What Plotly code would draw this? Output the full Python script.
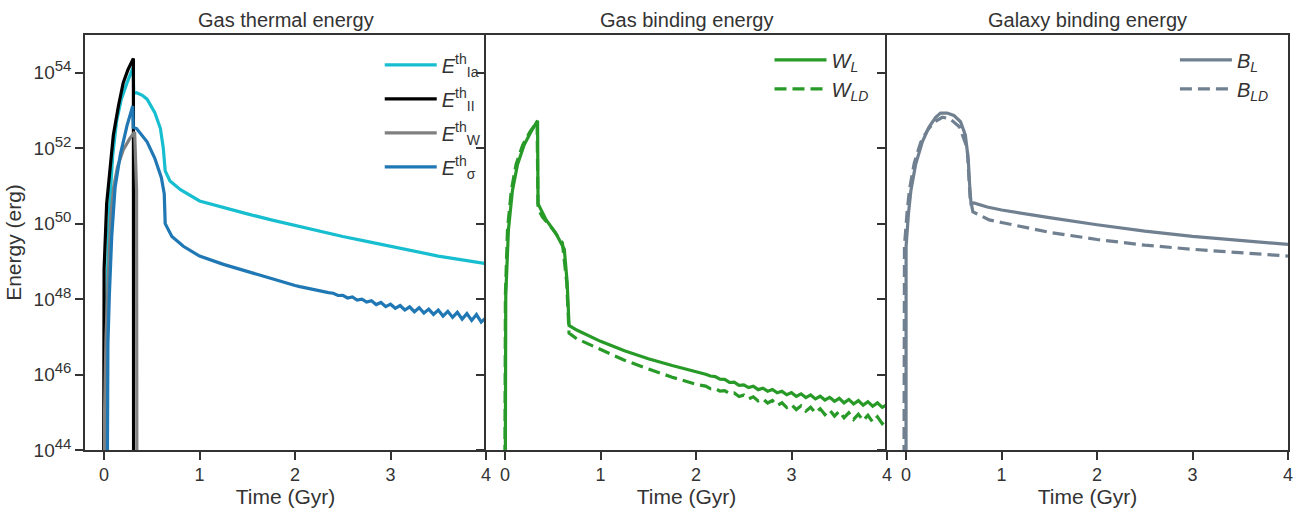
import plotly.graph_objects as go
from plotly.subplots import make_subplots

# ---------------- data: time (Gyr) and log10(energy / erg) ----------------
# shared late-time grid (Gyr)
t_late = [2.00, 2.05, 2.10, 2.15, 2.20, 2.25, 2.30, 2.35, 2.40, 2.45, 2.50,
          2.55, 2.60, 2.65, 2.70, 2.75, 2.80, 2.85, 2.90, 2.95, 3.00,
          3.05, 3.10, 3.15, 3.20, 3.25, 3.30, 3.35, 3.40, 3.45, 3.50,
          3.55, 3.60, 3.65, 3.70, 3.75, 3.80, 3.85, 3.90, 3.95, 4.00]

# Gas thermal energy
t_Ia = [0.015, 0.02, 0.03, 0.045, 0.063, 0.09, 0.13, 0.18, 0.24, 0.29, 0.305,
        0.31, 0.34, 0.40, 0.45, 0.53, 0.59, 0.62, 0.64, 0.69, 0.80, 1.00, 1.25,
        1.50, 1.75, 2.00, 2.25, 2.50, 2.75, 3.00, 3.25, 3.50, 3.75, 4.00]
logE_Ia = [40.0, 46.0, 48.0, 49.7, 50.7, 51.8, 52.7, 53.3, 53.73, 54.1, 54.15,
           53.45, 53.47, 53.4, 53.3, 52.95, 52.52, 52.0, 51.4, 51.13, 50.9, 50.6, 50.42,
           50.26, 50.1, 49.95, 49.8, 49.66, 49.53, 49.4, 49.27, 49.14, 49.04, 48.94]

t_II = [-0.008, -0.006, -0.003, 0.0, 0.027, 0.063, 0.097, 0.15, 0.20, 0.25, 0.307, 0.309]
logE_II = [40.0, 46.0, 47.8, 48.8, 50.53, 51.57, 52.35, 53.12, 53.73, 54.08, 54.38, 40.0]

t_W = [0.0, 0.005, 0.02, 0.045, 0.07, 0.10, 0.14, 0.20, 0.27, 0.32, 0.34, 0.345]
logE_W = [40.0, 45.0, 47.0, 48.8, 50.2, 50.96, 51.5, 51.95, 52.26, 52.43, 50.9, 40.0]

t_sig_early = [0.028, 0.032, 0.04, 0.055, 0.08, 0.115, 0.17, 0.24, 0.30, 0.305,
               0.34, 0.45, 0.53, 0.60, 0.63, 0.64, 0.71, 0.83, 1.00, 1.25, 1.50, 1.75]
logE_sig_early = [40.0, 45.0, 46.8, 48.1, 49.66, 50.96, 51.83, 52.6, 53.12, 52.55,
                  52.52, 52.17, 51.74, 51.22, 50.79, 50.0, 49.66, 49.4, 49.14, 48.92, 48.73, 48.53]
logE_sig_late = [48.36, 48.33, 48.30, 48.28, 48.25, 48.22, 48.19, 48.17, 48.155, 48.095, 48.10,
                 48.03, 48.055, 47.975, 48.00, 47.92, 47.955, 47.855, 47.91, 47.80, 47.865,
                 47.755, 47.83, 47.71, 47.795, 47.665, 47.77, 47.63, 47.735, 47.595, 47.71,
                 47.55, 47.675, 47.515, 47.65, 47.47, 47.615, 47.435, 47.59, 47.39, 47.51]

# Gas binding energy
t_WL_early = [-0.001, 0.0, 0.007, 0.035, 0.077, 0.13, 0.20, 0.27, 0.34, 0.345, 0.43,
              0.53, 0.62, 0.65, 0.67, 0.75, 0.85, 1.00, 1.25, 1.50, 1.75]
logW_L_early = [40.0, 46.55, 48.1, 49.84, 50.88, 51.57, 52.09, 52.43, 52.73, 50.53, 50.1,
                49.75, 49.32, 48.45, 47.3, 47.18, 47.06, 46.88, 46.63, 46.42, 46.24]
logW_L_late = [46.08, 46.04, 46.01, 45.96, 45.945, 45.875, 45.87, 45.79, 45.80, 45.715, 45.725,
               45.655, 45.69, 45.60, 45.64, 45.56, 45.605, 45.515, 45.555, 45.465, 45.52,
               45.42, 45.49, 45.39, 45.46, 45.355, 45.425, 45.325, 45.395, 45.29, 45.37,
               45.25, 45.34, 45.22, 45.31, 45.19, 45.28, 45.16, 45.25, 45.13, 45.20]

t_WLD_early = [-0.005, -0.003, 0.003, 0.025, 0.065, 0.115, 0.185, 0.26, 0.335, 0.345, 0.39,
               0.50, 0.60, 0.645, 0.67, 0.75, 0.88, 1.00, 1.25, 1.50, 1.75]
logW_LD_early = [40.0, 46.5, 48.1, 49.84, 50.88, 51.57, 52.09, 52.43, 52.7, 50.4, 50.18,
                 49.85, 49.49, 48.45, 47.1, 46.95, 46.8, 46.68, 46.38, 46.15, 45.93]
logW_LD_late = [45.74, 45.71, 45.695, 45.625, 45.63, 45.56, 45.575, 45.495, 45.51, 45.42, 45.455,
                45.355, 45.41, 45.30, 45.355, 45.245, 45.31, 45.18, 45.25, 45.125, 45.205,
                45.07, 45.17, 45.03, 45.135, 44.985, 45.095, 44.94, 45.06, 44.90, 45.025,
                44.855, 44.985, 44.81, 44.95, 44.78, 44.92, 44.74, 44.88, 44.70, 44.81]

# Galaxy binding energy
t_BL = [-0.001, 0.0, 0.025, 0.05, 0.10, 0.17, 0.24, 0.31, 0.36, 0.43, 0.50, 0.57,
        0.62, 0.65, 0.665, 0.68, 0.71, 0.85, 1.00, 1.25, 1.50, 2.00, 2.50, 3.00, 3.50, 4.00]
logB_L = [40.0, 49.4, 50.27, 50.87, 51.57, 52.17, 52.56, 52.82, 52.93, 52.93, 52.87, 52.7,
          52.35, 51.74, 51.05, 50.53, 50.55, 50.44, 50.36, 50.25, 50.16, 49.97, 49.8, 49.66, 49.56, 49.45]

t_BLD = [-0.025, -0.022, -0.017, 0.01, 0.035, 0.085, 0.155, 0.23, 0.30, 0.38, 0.46,
         0.56, 0.64, 0.67, 0.70, 0.75, 0.87, 1.00, 1.25, 1.50, 2.00, 2.50, 3.00, 3.50, 4.00]
logB_LD = [40.0, 47.0, 49.4, 50.3, 50.9, 51.6, 52.17, 52.5, 52.7, 52.82, 52.78,
           52.56, 52.0, 50.7, 50.31, 50.25, 50.1, 50.03, 49.89, 49.77, 49.58, 49.43, 49.32, 49.22, 49.14]

# labels / ticks
panel_titles = ["Gas thermal energy", "Gas binding energy", "Galaxy binding energy"]
x_ticks = [0, 1, 2, 3, 4]
y_tick_exps = [44, 46, 48, 50, 52, 54]

# ---------------- figure ----------------
def pw(vals):
    return [10.0 ** v for v in vals]

TXT = "#333333"
FONT = "Liberation Sans, Arial"
fig = make_subplots(rows=1, cols=3, shared_yaxes=True, horizontal_spacing=0,
                    subplot_titles=panel_titles)

lw = 3.2
dash = "12px,6px"

fig.add_trace(go.Scatter(x=t_Ia, y=pw(logE_Ia), mode="lines", line=dict(color="#17becf", width=lw),
                         name="<i>E</i><sup>th</sup><sub>Ia</sub>", legend="legend", legendgroup="a"), row=1, col=1)
fig.add_trace(go.Scatter(x=t_II, y=pw(logE_II), mode="lines", line=dict(color="#000000", width=lw),
                         name="<i>E</i><sup>th</sup><sub>II</sub>", legend="legend", legendgroup="b"), row=1, col=1)
fig.add_trace(go.Scatter(x=t_W, y=pw(logE_W), mode="lines", line=dict(color="#808080", width=lw),
                         name="<i>E</i><sup>th</sup><sub>W</sub>", legend="legend", legendgroup="c"), row=1, col=1)
fig.add_trace(go.Scatter(x=t_sig_early + t_late, y=pw(logE_sig_early + logE_sig_late), mode="lines",
                         line=dict(color="#1f77b4", width=lw),
                         name="<i>E</i><sup>th</sup><sub>σ</sub>", legend="legend", legendgroup="d"), row=1, col=1)

GREEN = "#289a28"
fig.add_trace(go.Scatter(x=t_WL_early + t_late, y=pw(logW_L_early + logW_L_late), mode="lines",
                         line=dict(color=GREEN, width=lw),
                         name="<i>W</i><sub><i>L</i></sub>", legend="legend2"), row=1, col=2)
fig.add_trace(go.Scatter(x=t_WLD_early + t_late, y=pw(logW_LD_early + logW_LD_late), mode="lines",
                         line=dict(color=GREEN, width=lw, dash=dash),
                         name="<i>W</i><sub><i>LD</i></sub>", legend="legend2"), row=1, col=2)

SLATE = "#708090"
fig.add_trace(go.Scatter(x=t_BL, y=pw(logB_L), mode="lines", line=dict(color=SLATE, width=lw),
                         name="<i>B</i><sub><i>L</i></sub>", legend="legend3"), row=1, col=3)
fig.add_trace(go.Scatter(x=t_BLD, y=pw(logB_LD), mode="lines", line=dict(color=SLATE, width=lw, dash=dash),
                         name="<i>B</i><sub><i>LD</i></sub>", legend="legend3"), row=1, col=3)

axis_common = dict(showline=True, linecolor=TXT, linewidth=1.5,
                   ticks="outside", ticklen=8, tickwidth=1.5, tickcolor=TXT,
                   showgrid=False, zeroline=False)

for c in (1, 2, 3):
    fig.update_xaxes(range=[-0.2, 4], tickvals=x_ticks, ticktext=[str(v) for v in x_ticks],
                     mirror=True, tickfont=dict(size=18, color=TXT, family=FONT),
                     title=dict(text="Time (Gyr)", font=dict(size=21, color=TXT, family=FONT),
                                standoff=4),
                     row=1, col=c, **axis_common)
    fig.update_yaxes(type="log", range=[44, 55], tickvals=[10.0 ** e for e in y_tick_exps],
                     ticktext=["10<sup><span style='font-size:15px'>%d</span></sup>" % e for e in y_tick_exps],
                     mirror=(c == 3), tickfont=dict(size=19, color=TXT, family=FONT),
                     row=1, col=c, **axis_common)

fig.update_yaxes(title=dict(text="Energy (erg)", font=dict(size=21, color=TXT, family=FONT),
                            standoff=6), row=1, col=1)

for ann in fig.layout.annotations:
    ann.font = dict(size=20, color=TXT, family=FONT)
    ann.yshift = 2

leg_common = dict(xanchor="left", yanchor="top", bgcolor="rgba(0,0,0,0)", itemwidth=52,
                  font=dict(size=20, color=TXT, family=FONT))
fig.update_layout(
    width=1315, height=516,
    margin=dict(l=85, r=27, t=35, b=58),
    paper_bgcolor="white", plot_bgcolor="white",
    legend=dict(x=0.245, y=0.975, tracegroupgap=5, **leg_common),
    legend2=dict(x=0.569, y=0.987, **leg_common),
    legend3=dict(x=0.906, y=0.987, **leg_common),
)

fig.write_html("out.html")
